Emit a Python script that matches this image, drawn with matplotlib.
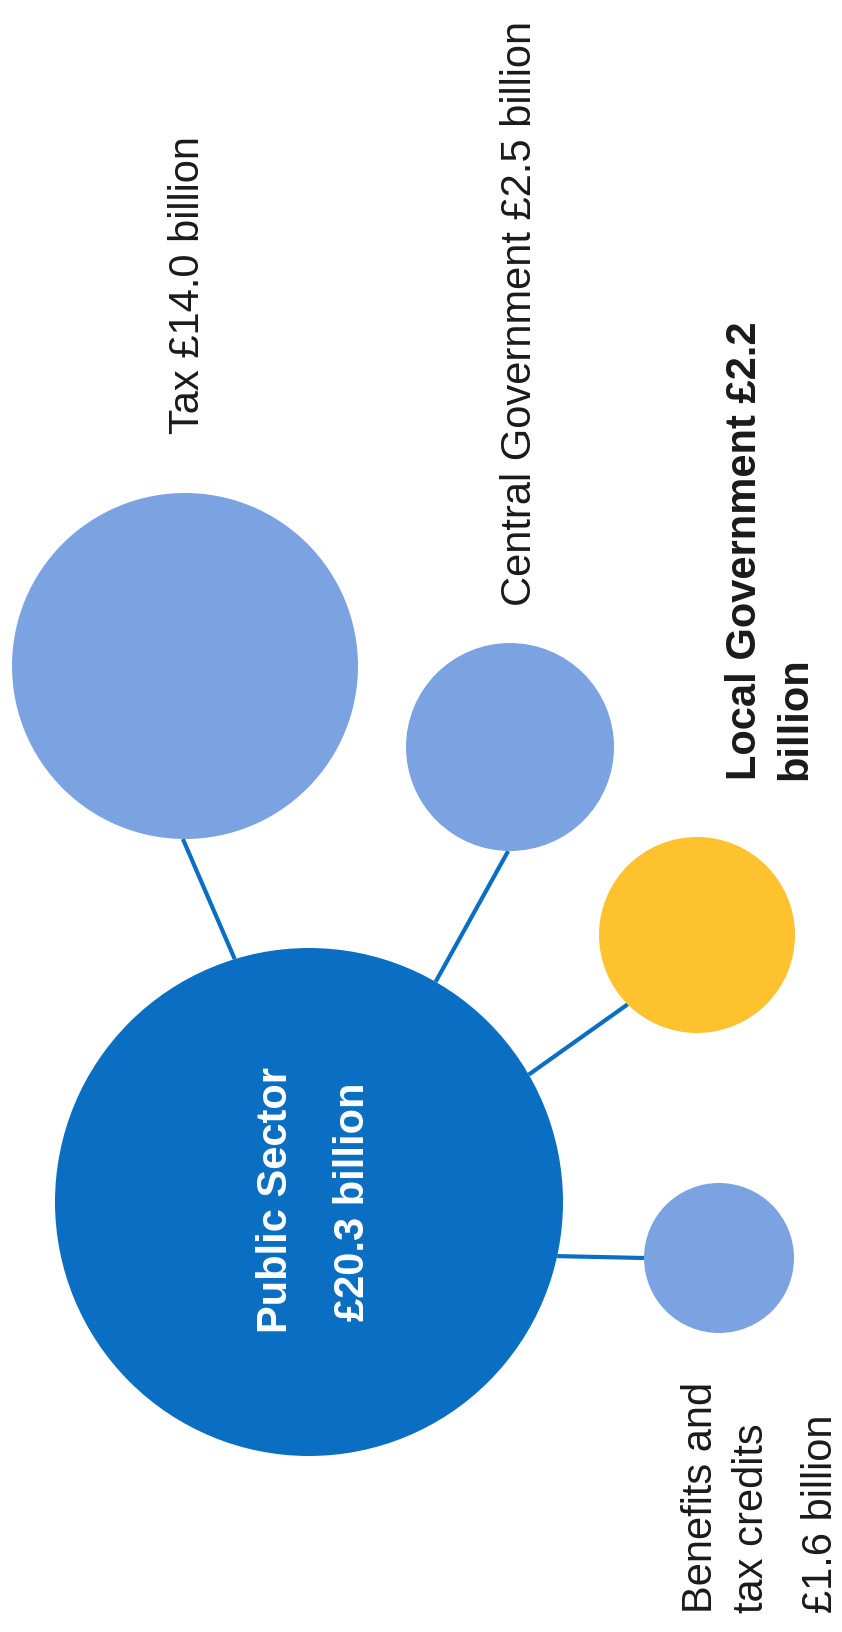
import numpy as np
import matplotlib.pyplot as plt
from matplotlib.patches import Circle

# bubbles: public sector spend and where it goes
labels = ["Public Sector", "Tax", "Central Government", "Local Government",
          "Benefits and tax credits"]
values = [20.3, 14.0, 2.5, 2.2, 1.6]   # £ billion

# layout, in pixel units of the 842x1632 page (y grows downwards)
centers = [(309, 1202), (185, 666), (510, 747), (697, 935), (719, 1258)]
radii = [254, 173, 104, 98, 75]
colors = ["#0A6FC3", "#7BA3E2", "#7BA3E2", "#FDC22E", "#7BA3E2"]
# where each connector leaves the parent and meets the child (degrees)
parent_angles = [None, -107.0, -60.1, -30.1, 12.3]
child_angles = [None, 90.7, 91.0, 135.0, 180.0]

LINE_COL = "#0A6FC3"
TEXT_COL = "#1a1a1a"
FONT = ["Liberation Sans", "DejaVu Sans"]
FS = 30


def edge_point(i, ang):
    a = np.radians(ang)
    cx, cy = centers[i]
    return cx + radii[i] * np.cos(a), cy + radii[i] * np.sin(a)


fig = plt.figure(figsize=(8.42, 16.32), dpi=100)
ax = fig.add_axes([0, 0, 1, 1])
ax.set_xlim(0, 842)
ax.set_ylim(1632, 0)
ax.set_aspect("equal")
ax.axis("off")

# connectors first so the bubbles sit on top
for i in range(1, len(labels)):
    x0, y0 = edge_point(0, parent_angles[i])
    x1, y1 = edge_point(i, child_angles[i])
    ax.plot([x0, x1], [y0, y1], color=LINE_COL, lw=3.0, solid_capstyle="butt", zorder=1)

for c, r, col in zip(centers, radii, colors):
    ax.add_patch(Circle(c, r, facecolor=col, edgecolor="none", zorder=2))


def label(x, y, s, bold=False, color=TEXT_COL, ha="left"):
    ax.text(x, y, s, rotation=90, rotation_mode="anchor", ha=ha, va="baseline",
            fontsize=FS, family=FONT, fontweight="bold" if bold else "normal",
            color=color, zorder=3)


def money(v):
    return "£%.1f billion" % v


# public sector, inside the big bubble
label(287, 1200, labels[0], bold=True, color="white", ha="center")
label(364, 1202, money(values[0]), bold=True, color="white", ha="center")

label(199, 434, "%s %s" % (labels[1], money(values[1])))
label(531, 606, "%s %s" % (labels[2], money(values[2])))

label(756, 780, "%s £%.1f" % (labels[3], values[3]), bold=True)
label(806, 780, "billion", bold=True)

label(712, 1613, "Benefits and")
label(763, 1613, "tax credits")
label(832, 1613, money(values[4]))

fig.savefig("out.png", dpi=100, facecolor="white")
